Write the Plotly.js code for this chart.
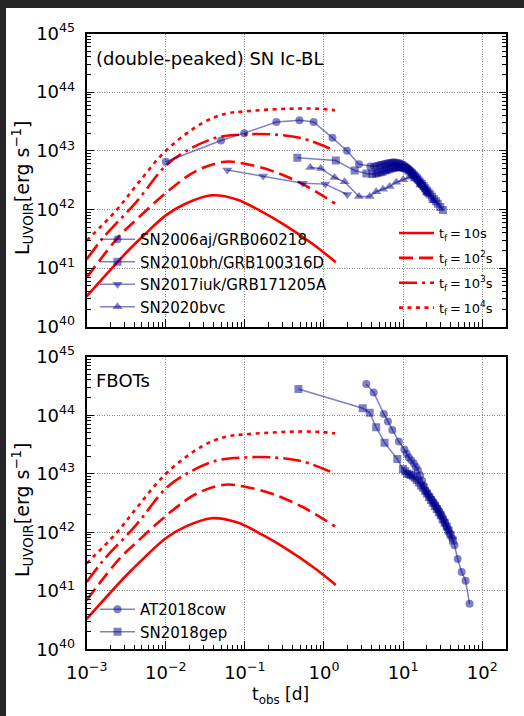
<!DOCTYPE html>
<html>
<head>
<meta charset="utf-8">
<script src="https://cdn.plot.ly/plotly-3.0.1.min.js"></script>
<style>
html,body{margin:0;padding:0;background:#ffffff;}
#chart{width:524px;height:716px;}
</style>
</head>
<body>
<div id="chart"></div>
<script>
// ---------- model curves (t_f) ----------
const modelLabels = ['t<sub>f</sub>\u2009=\u200910s','t<sub>f</sub>\u2009=\u200910<sup>2</sup>s','t<sub>f</sub>\u2009=\u200910<sup>3</sup>s','t<sub>f</sub>\u2009=\u200910<sup>4</sup>s'];
const tf1_t = [0.001, 0.0032, 0.0052, 0.01, 0.018, 0.038, 0.079, 0.17, 0.32, 0.72, 1.41];
const tf1_L = [3.3e40, 1.86e41, 3.55e41, 7.9e41, 1.26e42, 1.74e42, 1.48e42, 8.9e41, 5.4e41, 2.57e41, 1.26e41];
const tf2_t = [0.001, 0.0026, 0.0042, 0.01, 0.024, 0.056, 0.1, 0.224, 0.537, 1.38];
const tf2_L = [6.9e40, 3.55e41, 6.6e41, 1.9e42, 4.5e42, 6.5e42, 6.0e42, 4.5e42, 2.7e42, 1.26e42];
const tf3_t = [0.001, 0.00162, 0.0042, 0.01, 0.0178, 0.0427, 0.1, 0.224, 0.537, 1.38];
const tf3_L = [1.41e41, 3.3e41, 1.32e42, 5.6e42, 9.8e42, 1.66e43, 1.9e43, 1.9e43, 1.62e43, 1.0e43];
const tf4_t = [0.001, 0.00234, 0.00437, 0.01, 0.0288, 0.0575, 0.1, 0.331, 0.871, 1.38];
const tf4_L = [2.95e41, 9.5e41, 2.7e42, 1.0e43, 2.95e43, 4.3e43, 4.7e43, 5.2e43, 5.2e43, 4.9e43];

// ---------- SN Ic-BL data ----------
const sn2006aj_t = [0.010, 0.050, 0.098, 0.25, 0.49, 0.74, 1.28, 1.95, 2.77, 3.85, 4.3, 4.6, 5.0, 5.3, 5.7, 6.0, 6.4, 6.8, 7.2, 7.6, 8.0, 8.5, 9.0, 9.4, 9.9, 10.4, 11.0, 11.5, 12.0, 12.6, 13.2, 13.8, 14.5, 15.2, 16.0, 16.8, 17.6, 18.5, 19.4, 20.4];
const sn2006aj_L = [6.5e42, 1.5e43, 2.0e43, 3.1e43, 3.3e43, 3.1e43, 1.66e43, 1.0e43, 5.9e42, 5.4e42, 5.4e42, 5.5e42, 5.7e42, 5.8e42, 5.9e42, 6.0e42, 6.1e42, 6.2e42, 6.3e42, 6.3e42, 6.3e42, 6.2e42, 6.1e42, 6.0e42, 5.8e42, 5.6e42, 5.3e42, 5.0e42, 4.7e42, 4.4e42, 4.1e42, 3.8e42, 3.5e42, 3.2e42, 2.95e42, 2.7e42, 2.5e42, 2.3e42, 2.1e42, 1.9e42];
const sn2010bh_t = [0.46, 1.41, 2.44, 3.43, 4.1, 4.5, 4.8, 5.2, 5.5, 5.9, 6.2, 6.6, 7.0, 7.4, 7.8, 8.2, 8.6, 9.0, 9.4, 9.8, 10.3, 10.8, 11.3, 11.8, 12.4, 13.0, 13.6, 14.3, 15.0, 15.7, 16.5, 17.3, 18.2, 19.1, 20.0, 21.0, 22.0, 23.2, 24.5, 26.0, 27.5, 29.5, 31.9];
const sn2010bh_L = [7.6e42, 6.8e42, 4.6e42, 4.1e42, 4.0e42, 4.1e42, 4.2e42, 4.3e42, 4.4e42, 4.6e42, 4.7e42, 4.85e42, 5.0e42, 5.1e42, 5.2e42, 5.25e42, 5.3e42, 5.3e42, 5.3e42, 5.2e42, 5.1e42, 5.0e42, 4.8e42, 4.6e42, 4.4e42, 4.15e42, 3.9e42, 3.65e42, 3.4e42, 3.15e42, 2.9e42, 2.7e42, 2.5e42, 2.3e42, 2.1e42, 1.95e42, 1.8e42, 1.65e42, 1.5e42, 1.38e42, 1.25e42, 1.1e42, 9.8e41];
const sn2017iuk_t = [0.060, 0.17, 0.54, 1.04, 1.97];
const sn2017iuk_L = [4.7e42, 3.7e42, 2.8e42, 2.7e42, 1.8e42];
const sn2020bvc_t = [0.67, 0.91, 1.36, 1.82, 2.77, 3.78, 4.57, 5.56, 6.76, 8.2, 10.0, 12.0, 14.1, 16.6, 20.0, 24.0];
const sn2020bvc_L = [5.2e42, 5.0e42, 3.5e42, 2.95e42, 1.66e42, 1.66e42, 2.0e42, 2.2e42, 2.45e42, 2.9e42, 3.2e42, 3.55e42, 3.3e42, 2.6e42, 1.9e42, 1.4e42];

// ---------- FBOT data ----------
const at2018cow_t = [3.43, 4.24, 5.71, 6.43, 7.31, 8.85, 10.4, 11.1, 11.8, 12.7, 13.7, 14.5, 15.4, 16.4, 17.4, 18.4, 19.5, 20.6, 21.9, 23.2, 24.5, 25.7, 26.9, 28.2, 29.5, 30.9, 32.4, 33.9, 35.5, 37.2, 38.9, 41.7, 44.7, 49, 55, 61.7, 69.2];
const at2018cow_L = [3.4e44, 2.45e44, 1.05e44, 7.8e43, 5.6e43, 3.55e43, 2.6e43, 2.2e43, 1.9e43, 1.7e43, 1.5e43, 1.3e43, 1.15e43, 9.4e42, 7.6e42, 6.2e42, 5.0e42, 4.5e42, 4.0e42, 3.6e42, 3.2e42, 2.9e42, 2.6e42, 2.35e42, 2.1e42, 1.88e42, 1.66e42, 1.45e42, 1.26e42, 1.1e42, 9.5e41, 7.9e41, 6.0e41, 3.5e41, 2.1e41, 1.48e41, 6.0e40];
const sn2018gep_t = [0.475, 3.09, 3.78, 4.57, 5.83, 8.45, 9.95, 10.6, 11.2, 11.9, 12.6, 13.3, 14.1, 14.9, 15.8, 16.8, 17.8, 18.9, 20.0, 21.2, 22.4, 23.7, 25.1, 26.6, 28.2, 29.9, 31.6, 33.5, 35.5, 37.6, 39.8, 42.7];
const sn2018gep_L = [2.8e44, 1.32e44, 1.1e44, 6.2e43, 3.4e43, 1.78e43, 1.2e43, 1.1e43, 1.0e43, 9.8e42, 9.5e42, 9.1e42, 8.5e42, 7.8e42, 7.1e42, 6.3e42, 5.75e42, 5.1e42, 4.6e42, 4.0e42, 3.55e42, 3.2e42, 2.8e42, 2.5e42, 2.2e42, 1.95e42, 1.66e42, 1.45e42, 1.26e42, 1.07e42, 9.1e41, 7.2e41];

// ---------- ticks ----------
const yTickVals = [1e40, 1e41, 1e42, 1e43, 1e44, 1e45];
const yTickText = ['10<sup>40</sup>','10<sup>41</sup>','10<sup>42</sup>','10<sup>43</sup>','10<sup>44</sup>','10<sup>45</sup>'];
const xTickVals = [1e-3, 1e-2, 1e-1, 1, 10, 100];
const xTickText = ['10<sup>−3</sup>','10<sup>−2</sup>','10<sup>−1</sup>','10<sup>0</sup>','10<sup>1</sup>','10<sup>2</sup>'];

function minorVals(d0, d1){
  const v = [];
  for (let d = d0; d <= d1; d++) for (let m = 2; m <= 9; m++) v.push(m * Math.pow(10, d));
  return v;
}

const FONT = 'DejaVu Sans, sans-serif';
const RED = '#ff0000';
const BLUE = 'rgba(0,0,139,0.5)';
const dashes = ['solid', '14px,6px', '18px,5px,3px,5px', '4px,4.5px'];
const models = [[tf1_t, tf1_L], [tf2_t, tf2_L], [tf3_t, tf3_L], [tf4_t, tf4_L]];

const traces = [];
[['x','y'],['x2','y2']].forEach((ax, p) => {
  models.forEach((m, i) => {
    traces.push({
      x: m[0], y: m[1], xaxis: ax[0], yaxis: ax[1], mode: 'lines', type: 'scatter',
      line: {color: RED, width: 2.6, dash: dashes[i], shape: 'spline', smoothing: 1},
      name: modelLabels[i], showlegend: p === 0, legend: 'legend2', legendgroup: 'm' + i, hoverinfo: 'skip'
    });
  });
});

function dataTrace(t, L, name, symbol, ax, lg){
  return {
    x: t, y: L, xaxis: ax[0], yaxis: ax[1], mode: 'lines+markers', type: 'scatter', name: name,
    legend: lg,
    line: {color: BLUE, width: 1.5},
    marker: {symbol: symbol, size: symbol.indexOf('triangle') === 0 ? 9 : 8, color: BLUE, line: {width: 0}}
  };
}
traces.push(dataTrace(sn2006aj_t, sn2006aj_L, 'SN2006aj/GRB060218', 'circle', ['x','y'], 'legend'));
traces.push(dataTrace(sn2010bh_t, sn2010bh_L, 'SN2010bh/GRB100316D', 'square', ['x','y'], 'legend'));
traces.push(dataTrace(sn2017iuk_t, sn2017iuk_L, 'SN2017iuk/GRB171205A', 'triangle-down', ['x','y'], 'legend'));
traces.push(dataTrace(sn2020bvc_t, sn2020bvc_L, 'SN2020bvc', 'triangle-up', ['x','y'], 'legend'));
traces.push(dataTrace(at2018cow_t, at2018cow_L, 'AT2018cow', 'circle', ['x2','y2'], 'legend3'));
traces.push(dataTrace(sn2018gep_t, sn2018gep_L, 'SN2018gep', 'square', ['x2','y2'], 'legend3'));

const W = 524, H = 716;
const xDom = [86.7 / W, 506 / W];
const yDomTop = [1 - 326.7 / H, 1 - 33.5 / H];
const yDomBot = [1 - 649.3 / H, 1 - 356.7 / H];

function xaxis(showLabels, anchor){
  return {
    type: 'log', range: [-3, Math.log10(200)], domain: xDom, anchor: anchor,
    tickmode: 'array', tickvals: xTickVals, ticktext: xTickText, showticklabels: showLabels,
    ticks: 'inside', ticklen: 8, tickwidth: 1, tickcolor: '#000',
    minor: {tickmode: 'array', tickvals: minorVals(-3, 2), ticks: 'inside', ticklen: 4.5, tickwidth: 1, tickcolor: '#000', showgrid: false},
    showline: true, linecolor: '#000', linewidth: 2, mirror: true,
    showgrid: true, gridcolor: '#8a8a8a', gridwidth: 1, griddash: '1px,1.5px',
    tickfont: {family: FONT, size: 18, color: '#000'}, ticklabelstandoff: 6
  };
}
function yaxis(dom, anchor, mirror){
  return {
    type: 'log', range: [40, 45], domain: dom, anchor: anchor,
    tickmode: 'array', tickvals: yTickVals, ticktext: yTickText,
    ticks: 'inside', ticklen: 7, tickwidth: 1, tickcolor: '#000',
    minor: {tickmode: 'array', tickvals: minorVals(40, 44), ticks: 'inside', ticklen: 4, tickwidth: 1, tickcolor: '#000', showgrid: false},
    showline: true, linecolor: '#000', linewidth: 2, mirror: mirror,
    showgrid: true, gridcolor: '#8a8a8a', gridwidth: 1, griddash: '1px,1.5px',
    tickfont: {family: FONT, size: 18, color: '#000'}, ticklabelstandoff: 6
  };
}

const legendBase = {bgcolor: 'rgba(0,0,0,0)', borderwidth: 0, font: {family: FONT, size: 15, color: '#000'}, itemwidth: 35, xanchor: 'left', yanchor: 'top', tracegroupgap: 0};

const layout = {
  width: W, height: H,
  margin: {l: 0, r: 0, t: 0, b: 0},
  paper_bgcolor: '#ffffff', plot_bgcolor: '#ffffff',
  font: {family: FONT, color: '#000'},
  xaxis: xaxis(false, 'y'),
  yaxis: yaxis(yDomTop, 'x', 'ticks'),
  xaxis2: xaxis(true, 'y2'),
  yaxis2: yaxis(yDomBot, 'x2', true),
  legend: Object.assign({}, legendBase, {x: 95 / W, y: 1 - 223 / H}),
  legend2: Object.assign({}, legendBase, {x: 394 / W, y: 1 - 218 / H, tracegroupgap: 5, font: {family: FONT, size: 13, color: '#000'}}),
  legend3: Object.assign({}, legendBase, {x: 95 / W, y: 1 - 593 / H}),
  showlegend: true,
  annotations: [
    {text: '(double-peaked) SN Ic-BL', xref: 'paper', yref: 'paper', x: 94 / W, y: 1 - 58 / H, xanchor: 'left', yanchor: 'middle', showarrow: false, font: {family: FONT, size: 18, color: '#000'}},
    {text: 'FBOTs', xref: 'paper', yref: 'paper', x: 94 / W, y: 1 - 380 / H, xanchor: 'left', yanchor: 'middle', showarrow: false, font: {family: FONT, size: 18, color: '#000'}},
    {text: 'L<sub>UVOIR</sub>[erg s<sup>−1</sup>]', xref: 'paper', yref: 'paper', x: 22 / W, y: 1 - 188 / H, xanchor: 'center', yanchor: 'middle', textangle: -90, showarrow: false, font: {family: FONT, size: 19, color: '#000'}},
    {text: 'L<sub>UVOIR</sub>[erg s<sup>−1</sup>]', xref: 'paper', yref: 'paper', x: 22 / W, y: 1 - 510 / H, xanchor: 'center', yanchor: 'middle', textangle: -90, showarrow: false, font: {family: FONT, size: 19, color: '#000'}},
    {text: 't<sub>obs</sub> [d]', xref: 'paper', yref: 'paper', x: 280 / W, y: 1 - 695 / H, xanchor: 'center', yanchor: 'middle', showarrow: false, font: {family: FONT, size: 17, color: '#000'}}
  ],
  shapes: [
    {type: 'rect', xref: 'paper', yref: 'paper', x0: 0, x1: 1, y0: 1 - 8 / H, y1: 1, fillcolor: '#262626', line: {width: 0}, layer: 'below'},
    {type: 'rect', xref: 'paper', yref: 'paper', x0: 0, x1: 6 / W, y0: 0, y1: 1, fillcolor: '#262626', line: {width: 0}, layer: 'below'}
  ]
};

Plotly.newPlot('chart', traces, layout, {displayModeBar: false, staticPlot: true});
</script>
</body>
</html>
